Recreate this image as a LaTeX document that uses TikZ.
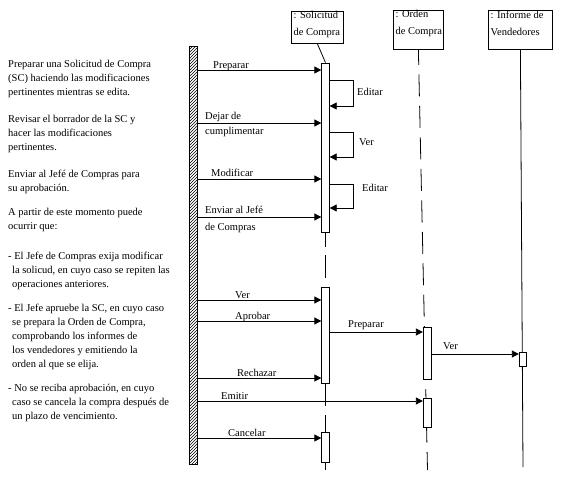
\documentclass[tikz,border=0pt]{standalone}
\usepackage{fontspec}
\setmainfont{Liberation Serif}
\usetikzlibrary{arrows.meta,patterns}
\begin{document}
\begin{tikzpicture}[x=1pt,y=-1pt,
  every node/.style={font=\fontsize{10.5}{13.5}\selectfont, inner sep=0pt},
  lbl/.style={anchor=base west},
  txt/.style={anchor=north west, align=left, font=\fontsize{10.5}{14}\selectfont},
  htxt/.style={anchor=north west, align=left, font=\fontsize{10.5}{17}\selectfont},
  hbox/.style={draw, line width=0.8pt, anchor=north west},
  act/.style={draw, fill=white, line width=0.8pt, minimum width=7.5pt},
  msg/.style={line width=0.8pt, -{Triangle[length=7pt,width=7pt]}},
  life/.style={line width=0.8pt},
  dashlife/.style={line width=0.8pt, dash pattern=on 22pt off 9.5pt, dash phase=7pt}]
\useasboundingbox (0,0) rectangle (566,482);
\fill[white] (0,0) rectangle (566,482);

% left description
\node[txt] (d1) at (8,60.5) {Preparar una Solicitud de Compra\\(SC) haciendo las modificaciones\\pertinentes mientras se edita.};
\node[txt] (d2) at (8,115.5) {Revisar el borrador de la SC y\\hacer las modificaciones\\pertinentes.};
\node[txt] (d3) at (8,169.5) {Enviar al Jefé de Compras para\\su aprobación.};
\node[txt] (d4) at (8,208.5) {A partir de este momento puede\\ocurrir que:};
\node[txt] (d5) at (8,251.5) {- El Jefe de Compras exija modificar\\\hspace*{4pt}la solicud, en cuyo caso se repiten las\\\hspace*{4pt}operaciones anteriores.};
\node[txt] (d6) at (8,303.5) {- El Jefe apruebe la SC, en cuyo caso\\\hspace*{4pt}se prepara la Orden de Compra,\\\hspace*{4pt}comprobando los informes de\\\hspace*{4pt}los vendedores y emitiendo la\\\hspace*{4pt}orden al que se elija.};
\node[txt] (d7) at (8,383.5) {- No se reciba aprobación, en cuyo\\\hspace*{4pt}caso se cancela la compra después de\\\hspace*{4pt}un plazo de vencimiento.};

% actor bar
\node[draw, line width=0.8pt, pattern=north east lines, minimum width=8pt, minimum height=418pt] (actor) at (193,255) {};

% headers
\node[hbox, minimum width=52pt, minimum height=32pt] (sbox) at (291,11) {};
\node[htxt] (st) at (293.5,11.5) {: Solicitud\\de Compra};
\node[hbox, minimum width=50pt, minimum height=39pt] (obox) at (393,10) {};
\node[htxt] (ot) at (395.5,10.5) {: Orden\\de Compra};
\node[hbox, minimum width=64pt, minimum height=39pt] (ibox) at (488,10) {};
\node[htxt] (it) at (490.5,10.5) {: Informe de\\Vendedores};

% lifelines
\coordinate (sl1) at (325.5,247);
\coordinate (sl2) at (325.5,255);
\coordinate (sl3) at (325.5,278);
\coordinate (sl4) at (325.5,406);
\coordinate (sl5) at (325.5,415);
\coordinate (sl6) at (325.5,470);
\coordinate (oend) at (427.5,470);
\coordinate (iend) at (523,467);
\draw[dashlife] (obox.south) -- (oend);
\draw[life] (ibox.south) -- (iend);

% activations
\node[act, minimum height=169pt] (s1) at (325.5,147.5) {};
\node[act, minimum height=96pt] (s2) at (325.5,335) {};
\node[act, minimum height=30pt] (s3) at (325.5,447) {};
\node[act, minimum width=8.5pt, minimum height=52pt] (o1) at (427.5,353) {};
\node[act, minimum width=8.5pt, minimum height=29pt] (o2) at (427.5,412.5) {};
\node[act, minimum height=14pt] (i1) at (523,359) {};

\draw[life] (sbox.south) -- (s1.north);
\draw[life] (s1.south) -- (sl1);
\draw[life] (sl2) -- (sl3);
\draw[life] (s2.south) -- (sl4);
\draw[life] (sl5) -- (s3.north);
\draw[life] (s3.south) -- (sl6);

% messages
\draw[msg] (actor.east |- 0,70) -- (s1.west |- 0,70);
\node[lbl] (m1) at (213,68.5) {Preparar};
\draw[msg] (s1.east |- 0,80) -- ++(24,0) -- ++(0,26) -- (s1.east |- 0,106);
\node[lbl] (m2) at (357,95) {Editar};

\draw[msg] (actor.east |- 0,123) -- (s1.west |- 0,123);
\node[lbl] (m3) at (205,119.5) {Dejar de};
\node[lbl] (m3b) at (205,134.5) {cumplimentar};
\draw[msg] (s1.east |- 0,132) -- ++(24,0) -- ++(0,25) -- (s1.east |- 0,157);
\node[lbl] (m4) at (359,145.5) {Ver};

\draw[msg] (actor.east |- 0,179) -- (s1.west |- 0,179);
\node[lbl] (m5) at (211,176.5) {Modificar};
\draw[msg] (s1.east |- 0,184) -- ++(24,0) -- ++(0,24) -- (s1.east |- 0,208);
\node[lbl] (m6) at (362,191.5) {Editar};

\draw[msg] (actor.east |- 0,217) -- (s1.west |- 0,217);
\node[lbl, fill=white, inner xsep=1pt, inner ysep=2pt] (m7) at (204,213) {Enviar al Jefé};
\node[lbl] (m7b) at (205,230.5) {de Compras};

\draw[msg] (actor.east |- 0,300) -- (s2.west |- 0,300);
\node[lbl] (m8) at (235,298.5) {Ver};
\draw[msg] (actor.east |- 0,321) -- (s2.west |- 0,321);
\node[lbl] (m9) at (235,319.5) {Aprobar};
\draw[msg] (s2.east |- 0,332) -- (o1.west |- 0,332);
\node[lbl] (m10) at (348,327.5) {Preparar};
\draw[msg] (o1.east |- 0,354) -- (i1.west |- 0,354);
\node[lbl] (m11) at (443,349.5) {Ver};
\draw[msg] (actor.east |- 0,378) -- (s2.west |- 0,378);
\node[lbl] (m12) at (237,376.5) {Rechazar};
\draw[msg] (actor.east |- 0,401) -- (o2.west |- 0,401);
\node[lbl] (m13) at (221,399.5) {Emitir};
\draw[msg] (actor.east |- 0,438) -- (s3.west |- 0,438);
\node[lbl] (m14) at (228,436.5) {Cancelar};
\end{tikzpicture}
\end{document}
